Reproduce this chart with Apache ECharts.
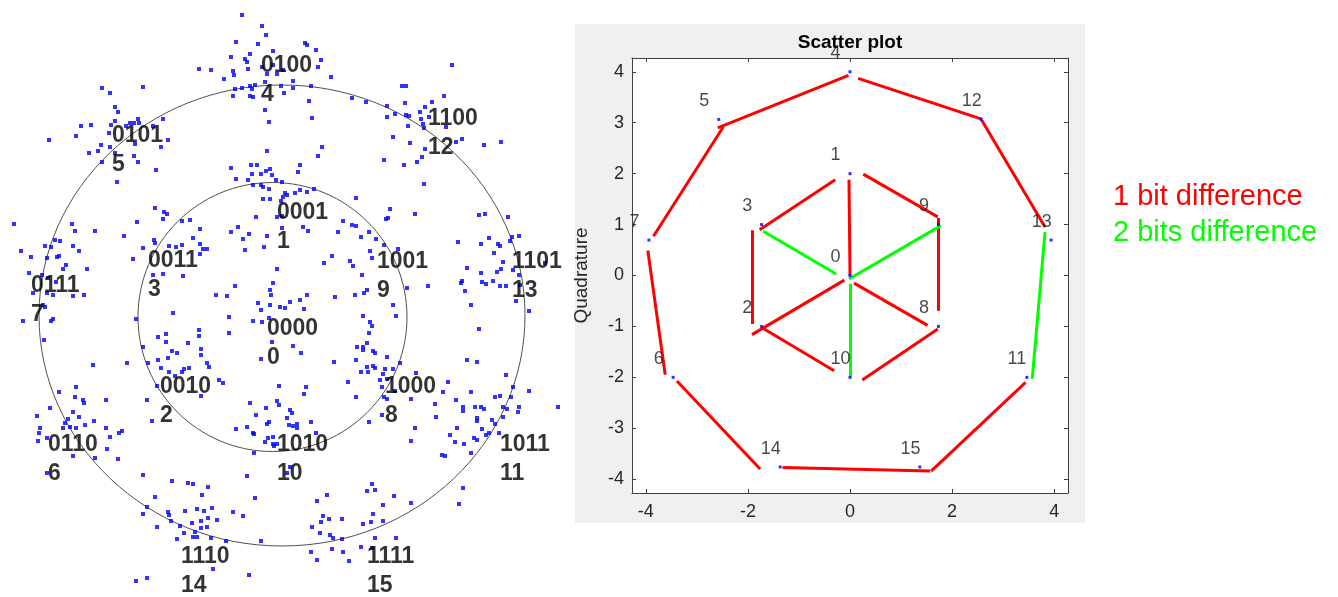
<!DOCTYPE html>
<html><head><meta charset="utf-8">
<script src="https://cdn.jsdelivr.net/npm/echarts@6/dist/echarts.min.js"></script>
<style>html,body{margin:0;padding:0;background:#fff}#c{width:1338px;height:597px}</style>
</head><body><div id="c"></div>
<script>
// ---------- LEFT PANEL: received noisy symbols (I, Q in panel units, origin at constellation centre) ----------
const RX_NORTH_WEST = [
[-180,227],[-172,222],[-139,228],[-167,208],[-164,203],[-201,189],[-191,190],[-171,190],[-167,194],[-156,189],
[-152,192],[-148,192],[-144,196],[-143,192],[-129,189],[-119,196],[-206,179],[-233,175],[-173,182],[-147,171],
[-121,168],[-114,175],[-181,170],[-184,164],[-172,168],[-193,162],[-167,162],[-148,159],[-144,153],[-180,153],
[-126,145],[-165,133],
[-127,107],[-118,103],[-115,101],[-119,96],[-100,94],[-268,91],[-210,91],[-207,84],[-187,84],[-145,93],
[-158,79],[-227,75],[-222,74],[-237,69],[-231,68],[-209,69],[-203,64],[-261,64],[-251,58],[-225,58],
[-223,59],[-235,57],[-216,50],[-219,46],[-195,46],[-253,42],[-240,40],[-234,37],[-226,33],[-235,22],
[-229,20],[-209,19],[-198,20],[-249,22],[-149,56],[-139,67],[-128,75],[-127,72],[-113,69],[-106,68],
[-100,70],[-129,40],[-119,41],[-99,39]
];
const RX_NORTH = [
[-40,300],[-20,289],[-16,280],[-46,273],[-24,271],[23,272],[25,270],[34,265],[-9,264],[-32,261],
[-51,258],[-37,256],[-35,253],[39,255],[36,248],[-83,246],[-71,245],[-49,244],[-48,240],[-34,246],
[-20,248],[-9,250],[1,245],[-15,241],[-5,241],[-58,236],[49,238],[11,234],[-17,233],[-27,230],
[-32,229],[-47,226],[-40,227],[-30,226],[-1,229],[11,227],[29,229],[-49,219],[-32,219],[-29,218],
[2,222],[27,214],[70,217],[84,213],[-17,205],[30,197],[-13,193],
[-15,164],[40,168],[36,159],[-51,147],[-31,150],[-25,150],[18,150],[-46,136],[-30,141],[-21,141],
[-16,144],[-12,146],[-10,140],[16,143],[-34,135],[-6,135],[0,133],[-29,130],[-21,130],[-19,128],
[-13,126],[3,122],[5,120],[1,118],[13,122],[18,125],[25,123],[32,126],[-19,116],[-12,116],
[-1,114],[74,117],[-26,98],[-5,98],[0,99],[21,88],[26,84],[61,94],[70,90],[74,89],
[0,87],[-51,83],[-44,88],[56,83],[79,78],[87,83],[-33,81],[-39,76],[-15,79],[-18,68],
[-37,65],[-5,46],[50,59],[42,52],[68,54],[71,49],[90,57],[94,76],[80,40],[88,64],
[-9,32],[-47,29],[-12,25],[-11,20],[-66,20],[-55,19],[25,20],[53,18],[73,20],[82,22],
[85,25],[-92,95],[-82,86],[-89,77],[-82,71],[-79,66],[-75,66],[-82,61]
];
const RX_NORTH_EAST = [
[170,250],[120,229],[124,229],[162,219],[123,212],[150,213],[105,209],[143,208],[138,203],[113,201],
[124,200],[127,199],[105,198],[147,198],[139,196],[141,191],[126,189],[142,187],[164,188],[111,178],
[128,172],[174,173],[180,176],[202,170],[219,173],[143,166],[140,158],[135,153],[102,155],[122,150],
[142,131],
[108,106],[106,97],[104,96],[133,101],[197,100],[203,101],[226,98],[207,77],[230,78],[237,79],
[176,73],[199,71],[216,71],[218,69],[228,74],[102,70],[116,66],[212,62],[221,53],[185,47],
[263,52],[215,43],[219,46],[231,45],[199,42],[237,40],[180,34],[179,32],[200,33],[204,31],
[211,34],[218,29],[224,29],[146,29],[125,27],[183,24],[238,30]
];
const RX_SOUTH_WEST = [
[-239,10],[-237,8],[-259,-6],[-231,-6],[-229,-4],[-238,-25],[-189,-50],[-155,-48],[-146,-4],[-109,2],
[-124,-22],[-116,-19],[-116,-27],[-94,-28],[-139,-32],[-110,-36],[-105,-38],[-124,-45],[-114,-43],[-134,-48],
[-121,-53],[-113,-57],[-100,-57],[-98,-54],[-107,-61],[-93,-53],[-125,-71],[-135,-85],[-130,-106],
[-206,-72],[-223,-77],[-207,-82],[-199,-85],[-198,-88],[-176,-85],[-232,-93],[-209,-97],[-203,-102],[-214,-104],
[-188,-106],[-245,-101],[-217,-108],[-219,-113],[-212,-112],[-206,-113],[-197,-110],[-176,-113],[-242,-113],[-243,-118],
[-244,-126],[-235,-123],[-172,-122],[-163,-118],[-160,-116],[-175,-134],[-164,-144],[-187,-143],[-209,-141],[-235,-158],
[-139,-160],[-110,-166],[-94,-168],[-127,-182],[-139,-199],[-135,-192],[-114,-197],[-113,-200],[-97,-196],[-111,-206],
[-102,-211],[-98,-218],[-125,-212],[-105,-224],[-146,-266],[-135,-263]
];
const RX_SOUTH = [
[-24,12],[-12,10],[-2,8],[3,7],[8,13],[18,15],[22,6],[-21,5],[-13,-3],[-29,-6],
[-20,-7],[-53,-2],[-53,-18],[-83,-15],[-83,-21],[-10,-27],[11,-31],[19,-38],[-81,-34],[-81,-40],
[-21,-44],[52,-47],[-75,-48],[-73,-52],[-63,-65],[-59,-68],[-81,-81],[-3,-71],[24,-72],[22,-79],
[66,-67],[74,-82],[-32,-88],[-5,-86],[-3,-90],[-16,-93],[8,-95],[10,-98],[-26,-100],[5,-103],
[-13,-107],[-15,-109],[-35,-112],[7,-110],[11,-111],[15,-109],[15,-113],[29,-107],[-46,-114],[-29,-118],
[-28,-119],[34,-118],[-14,-123],[-9,-122],[-17,-127],[-9,-129],[-5,-129],[-8,-131],[-28,-138],[8,-152],
[-35,-161],[5,-158],
[81,-1],[88,-7],[90,-11],[87,-18],[85,-28],[81,-32],[75,-32],[81,-35],[91,-36],[93,-38],
[74,-45],[85,-52],[91,-51],[93,-53],[79,-57],[86,-57],[98,-65],[87,-107],
[-89,-169],[-74,-172],[-80,-180],[-27,-183],[-85,-194],[-78,-196],[-70,-193],[-49,-197],[-39,-201],[-65,-205],
[-74,-203],[-81,-206],[-90,-208],[-75,-212],[-81,-213],[-87,-217],[-89,-222],[-85,-222],[-71,-223],[-56,-226],
[-21,-226],[-69,-254],[-33,-260],
[35,-186],[45,-180],[90,-169],[85,-176],[93,-175],[91,-199],[41,-201],[47,-204],[60,-204],[39,-207],
[30,-212],[81,-209],[89,-207],[38,-218],[48,-220],[51,-223],[60,-224],[93,-223],[79,-232],[29,-237],
[50,-234],[61,-237],[35,-245],[67,-246],[90,-233]
];
const RX_SOUTH_EAST = [
[111,10],[114,-1],[189,10],[234,14],[247,4],[197,-14],[105,-42],[118,-48],[103,-54],[111,-54],
[101,-59],[105,-64],[100,-72],[113,-76],[102,-82],[105,-84],[100,-100],[134,-58],[129,-84],[166,-67],
[185,-45],[195,-47],[224,-60],[231,-72],[247,-76],[161,-77],[189,-77],[174,-85],[153,-89],[181,-92],
[181,-96],[193,-92],[199,-92],[202,-94],[213,-82],[218,-81],[229,-82],[221,-92],[225,-94],[237,-92],
[236,-97],[276,-92],[154,-102],[195,-103],[195,-106],[210,-105],[221,-102],[213,-109],[133,-113],[175,-113],
[200,-114],[204,-120],[207,-118],[217,-118],[168,-120],[192,-123],[195,-125],[129,-126],[173,-127],[182,-129],
[160,-140],[163,-141],[189,-138],[181,-173],[177,-189],[129,-188],[112,-181],[101,-190],[101,-206],[114,-223]
];
// decision circles: [centreI, centreQ, radiusI, radiusQ]
const RINGS = [[0,-0.5,243,230.5],[-9.5,-2,134.5,134.5]];
// symbol labels in the left panel
const BITS = ['0100','0101','1100','0001','0011','1001','1101','0111','0000','0010','1000','0110','1010','1011','1110','1111'];
const BIT_SYMBOLS = [4,5,12,1,3,9,13,7,0,2,8,6,10,11,14,15];
const BIT_LABEL_AT = [[-21,234.5],[-170,164.5],[146,182],[-5,87.5],[-134,39.5],[95,38.5],[230,38.5],[-251,14.5],
  [-15,-28],[-122,-86],[103,-86],[-234,-144],[-5,-144],[218,-144],[-101,-256.5],[85,-256.5]];

// ---------- RIGHT PANEL: ideal constellation ----------
const CONST_IDS = [0,1,2,3,4,5,6,7,8,9,10,11,12,13,14,15];
const CONST_I = [0, 0, -1.732, -1.732, 0, -2.571, -3.464, -3.939, 1.732, 1.732, 0, 3.464, 2.571, 3.939, -1.368, 1.368];
const CONST_Q = [0, 2, -1, 1, 4, 3.064, -2, 0.695, -1, 1, -2, -2, 3.064, 0.695, -3.759, -3.759];
// neighbour links [I1, Q1, I2, Q2]
const LINKS_1BIT = [
[-0.03,3.93,-2.59,2.90],[-2.48,2.92,-3.85,0.77],[-3.96,0.49,-3.62,-1.95],[-3.39,-2.07,-1.76,-3.80],
[-1.32,-3.77,1.57,-3.84],[1.59,-3.84,3.44,-2.10],[3.82,0.95,2.58,3.05],[2.58,3.07,0.16,3.87],
[-0.29,1.88,-1.77,0.90],[0.26,1.99,1.72,1.15],[-0.02,1.88,0,0],[1.73,1.13,1.73,-0.69],
[-1.92,0.89,-1.92,-0.95],[-0.11,-0.09,-1.92,-1.16],[0.08,-0.15,1.52,-0.98],[-1.73,-1.02,-0.31,-1.87],
[1.72,-1.05,0.24,-2.05]
];
const LINKS_2BIT = [
[3.57,-2.03,3.82,0.85],[-1.70,0.87,-0.27,0.03],[-0.02,-0.07,1.78,0.98],[0,-0.16,0,-1.99]
];
const X_TICKS = [-4,-2,0,2,4];
const Y_TICKS = [-4,-3,-2,-1,0,1,2,3,4];
const LEGEND_TEXTS = ['1 bit difference','2 bits difference'];

// ---------- chart ----------
const chart = echarts.init(document.getElementById('c'), null, {renderer:'canvas'});
const AX = '#404040', TXT = '#262626', FONT = '"Liberation Sans", Arial, sans-serif';
const received = [].concat(RX_NORTH_WEST, RX_NORTH, RX_NORTH_EAST, RX_SOUTH_WEST, RX_SOUTH, RX_SOUTH_EAST);
const toLines = arr => arr.map(s => ({coords:[[s[0],s[1]],[s[2],s[3]]]}));
const boxAxis = (extra) => Object.assign({
  gridIndex:1, type:'value', min:-4.27, max:4.27,
  splitLine:{show:false},
  axisLine:{show:true, onZero:false, lineStyle:{color:AX, width:1}},
  axisTick:{show:true, inside:true, length:4, lineStyle:{color:AX}},
  axisLabel:{show:false}
}, extra);

chart.setOption({
  animation:false,
  backgroundColor:'#ffffff',
  graphic:{elements:[
    {type:'rect', z:-10, silent:true, shape:{x:575, y:24, width:510, height:499}, style:{fill:'#f0f0f0'}},
    {type:'text', z:10, x:850, y:43, style:{text:'Scatter plot', fill:'#000', font:'bold 19px '+FONT, align:'center', verticalAlign:'middle'}},
    {type:'text', x:1113, y:197, style:{text:LEGEND_TEXTS[0], fill:'#ff0000', font:'29px '+FONT, align:'left', verticalAlign:'middle'}},
    {type:'text', x:1113, y:233, style:{text:LEGEND_TEXTS[1], fill:'#00ff00', font:'29px '+FONT, align:'left', verticalAlign:'middle'}}
  ]},
  grid:[
    {left:0, top:0, width:570, height:597, show:false},
    {left:632, top:58, width:436, height:435, show:true, backgroundColor:'#ffffff', borderWidth:0}
  ],
  xAxis:[
    {gridIndex:0, type:'value', min:-282, max:288, show:false},
    boxAxis({position:'bottom',
      axisTick:{show:true, inside:true, length:4, customValues:X_TICKS, lineStyle:{color:AX}},
      axisLabel:{show:true, customValues:X_TICKS, color:TXT, fontSize:18, fontFamily:FONT, margin:10}}),
    boxAxis({position:'top',
      axisTick:{show:true, inside:true, length:4, customValues:X_TICKS, lineStyle:{color:AX}}})
  ],
  yAxis:[
    {gridIndex:0, type:'value', min:-282, max:315, show:false},
    boxAxis({position:'left', name:'Quadrature', nameLocation:'middle', nameGap:41, nameRotate:90,
      nameTextStyle:{color:TXT, fontSize:19, fontFamily:FONT},
      axisTick:{show:true, inside:true, length:4, customValues:Y_TICKS, lineStyle:{color:AX}},
      axisLabel:{show:true, customValues:Y_TICKS, color:TXT, fontSize:18, fontFamily:FONT, margin:8}}),
    boxAxis({position:'right',
      axisTick:{show:true, inside:true, length:4, customValues:Y_TICKS, lineStyle:{color:AX}}})
  ],
  series:[
    {type:'custom', xAxisIndex:0, yAxisIndex:0, silent:true, z:1, data:RINGS,
      renderItem:(params, api) => {
        const c = api.coord([api.value(0), api.value(1)]);
        const s = api.size([api.value(2), api.value(3)]);
        return {type:'ellipse', shape:{cx:c[0], cy:c[1], rx:s[0], ry:s[1]},
          style:{fill:null, stroke:'#505050', lineWidth:1}};
      }},
    {type:'scatter', xAxisIndex:0, yAxisIndex:0, silent:true, z:2, data:received,
      symbol:'rect', symbolSize:4, itemStyle:{color:'#0000ff'}},
    {type:'scatter', xAxisIndex:0, yAxisIndex:0, silent:true, z:3,
      data:BIT_LABEL_AT.map((p,i)=>({value:p, name:BITS[i]+'\n'+BIT_SYMBOLS[i]})),
      symbolSize:0,
      label:{show:true, position:'inside', align:'left', verticalAlign:'middle', formatter:'{b}',
        color:'#000', fontSize:23, fontWeight:'bold', fontFamily:FONT, lineHeight:29}},
    {type:'lines', coordinateSystem:'cartesian2d', xAxisIndex:1, yAxisIndex:1, silent:true, z:3,
      data:toLines(LINKS_1BIT), lineStyle:{color:'#ff0000', width:3, opacity:1}},
    {type:'lines', coordinateSystem:'cartesian2d', xAxisIndex:1, yAxisIndex:1, silent:true, z:3,
      data:toLines(LINKS_2BIT), lineStyle:{color:'#00ff00', width:3, opacity:1}},
    {type:'scatter', xAxisIndex:1, yAxisIndex:1, silent:true, z:4, clip:false,
      data:CONST_IDS.map((id,i)=>({value:[CONST_I[i], CONST_Q[i]], name:String(id)})),
      symbol:'rect', symbolSize:3, itemStyle:{color:'#0000ff'},
      label:{show:true, position:'inside', align:'left', verticalAlign:'middle', offset:[-19.4,-18.3],
        formatter:'{b}', color:'#1a1a1a', fontSize:18, fontFamily:FONT}}
  ]
});
</script></body></html>
